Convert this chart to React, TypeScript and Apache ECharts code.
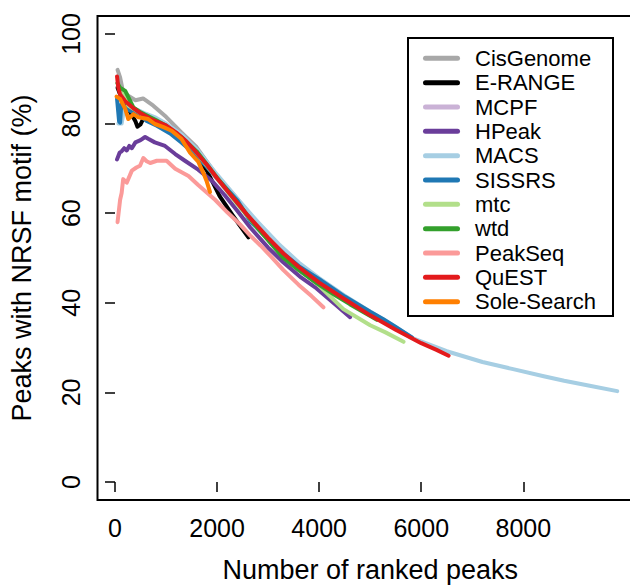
import React, { useEffect, useRef } from "react";
import * as echarts from "echarts";

const xTicks = [0, 2000, 4000, 6000, 8000];
const yTicks = [0, 20, 40, 60, 80, 100];

const seriesNames = ["CisGenome", "E-RANGE", "MCPF", "HPeak", "MACS", "SISSRS", "mtc", "wtd", "PeakSeq", "QuEST", "Sole-Search"];
const seriesColors = ["#A8A8A8", "#000000", "#CAB2D6", "#6A3D9A", "#A6CEE3", "#1F78B4", "#B2DF8A", "#33A02C", "#FB9A99", "#E31A1C", "#FF7F00"];

const cisGenome = [[50,92],[100,90.3],[150,87.5],[250,86.3],[400,85.2],[550,85.6],[750,84],[1000,81.5],[1300,78],[1600,74.7],[2000,68.3],[2300,64.5],[2600,60.3]];
const eRange = [[50,88],[150,85],[300,82.5],[400,80.5],[440,79.3],[500,79.8],[560,81.2],[700,80.6],[850,80.8],[950,79.8],[1050,79.2],[1200,77.6],[1500,74],[1800,69.5],[2050,63.8],[2300,59.6],[2450,57.2],[2614,54.6]];
const mcpf = [[50,89],[150,85.5],[400,83],[800,80.5],[1200,77.8],[1600,73.3],[2000,67.6],[2400,62],[2800,56.8],[3200,52]];
const hPeak = [[40,72],[90,73.5],[130,73.8],[180,74.5],[230,74],[280,75],[330,74.5],[400,75.8],[500,76.3],[590,77],[650,76.6],[780,75.8],[980,75],[1180,73.2],[1370,71.7],[1630,69.7],[1900,67.2],[2150,64],[2400,60.5],[2650,56.8],[3000,52.3],[3300,49],[3650,45.6],[3950,43.2],[4300,39.8],[4606,36.8]];
const macs = [[65,80],[130,80],[180,83.5],[300,83.5],[450,83],[600,82.2],[800,81.3],[1000,80],[1300,77.6],[1600,74.3],[2000,68.6],[2400,63.2],[2800,58],[3200,53.2],[3600,49],[4000,45.5],[4500,41.6],[5000,38],[5400,35.3],[5815,32.2],[6500,29.2],[7200,26.8],[7800,25.2],[8400,23.6],[8800,22.6],[9300,21.5],[9840,20.3]];
const sissrs = [[40,85.5],[60,83],[80,80.5],[100,80.2],[115,83],[130,84.5],[230,83.3],[350,82.5],[490,81.8],[620,80.6],[820,79.5],[1080,77.8],[1300,75.8],[1600,72.8],[2000,67.8],[2400,62.8],[2650,58.2],[3000,54.2],[3300,51],[3600,48.2],[4000,45.3],[4500,41.4],[5000,38],[5250,36.4],[5500,34.6],[5818,32.3]];
const mtc = [[50,89],[100,88],[160,87.3],[260,84],[360,83.3],[500,82.3],[800,80.5],[1000,79.3],[1300,77],[1600,73.5],[2000,67.8],[2400,62],[2800,56.6],[3200,51.6],[3600,47.6],[4000,43.8],[4475,38.6],[5000,35],[5300,33.4],[5653,31.3]];
const wtd = [[50,89],[100,88],[200,87.3],[360,83.6],[500,82.5],[800,80.8],[1000,79.5],[1300,77],[1600,73.8],[2000,67.9],[2400,62.3],[2800,56.6],[3300,50],[3600,47.3],[3950,44.4],[4300,41.8],[4600,39.7],[5131,36.2]];
const peakSeq = [[50,58],[100,63],[130,64.5],[160,67.6],[230,66.8],[330,69.5],[420,70.2],[490,70.6],[555,72.3],[620,71.6],[690,71.2],[820,71.7],[1010,71.7],[1180,69.9],[1440,68.3],[1630,66.3],[1960,63],[2200,60.2],[2450,57.5],[2650,55],[2850,52.8],[3050,50.4],[3300,47.3],[3600,44],[3850,41.5],[4083,39]];
const quest = [[40,90.5],[65,88],[100,86.5],[200,85],[350,83.5],[500,82.3],[700,81],[1000,79.6],[1200,78],[1400,76],[1600,73.5],[1800,70.8],[2000,67.8],[2200,65],[2400,62.3],[2600,59.5],[2800,57],[3000,54.5],[3300,51],[3600,48],[4000,44.5],[4500,40.8],[5000,37.2],[5500,34],[6000,31],[6300,29.5],[6536,28.2]];
const soleSearch = [[30,86],[100,85.5],[200,83.3],[260,81],[360,82.1],[460,81.4],[650,81],[780,79.9],[950,79.2],[1110,78.4],[1300,76.6],[1470,73.5],[1630,71.5],[1730,69],[1800,67],[1862,64.7]];

const seriesData = [cisGenome, eRange, mcpf, hPeak, macs, sissrs, mtc, wtd, peakSeq, quest, soleSearch];

const FONT = "'Liberation Sans', Arial, Helvetica, sans-serif";

export default function App() {
  const ref = useRef<HTMLDivElement>(null);
  useEffect(() => {
    if (!ref.current) return;
    const chart = echarts.init(ref.current, null, { renderer: "svg" });
    chart.setOption({
      animation: false,
      backgroundColor: "#fff",
      grid: {
        left: 97.5, top: 16, width: 545.5, height: 484,
        outerBoundsMode: "none", containLabel: false,
        show: true, borderColor: "#000", borderWidth: 2, backgroundColor: "transparent",
      },
      xAxis: {
        type: "value", min: -343, max: 10345,
        axisLine: { show: false },
        axisTick: { show: true, length: 10, lineStyle: { color: "#000", width: 1.5 }, customValues: xTicks },
        axisLabel: { customValues: xTicks, fontSize: 25, color: "#000", margin: 15, fontFamily: FONT, formatter: (v: number) => String(v) },
        splitLine: { show: false },
        name: "Number of ranked peaks", nameLocation: "middle", nameGap: 56,
        nameTextStyle: { fontSize: 27, color: "#000", fontFamily: FONT },
      },
      yAxis: {
        type: "value", min: -4, max: 104,
        axisLine: { show: false },
        axisTick: { show: true, length: 10, lineStyle: { color: "#000", width: 1.5 }, customValues: yTicks },
        axisLabel: { customValues: yTicks, fontSize: 25, color: "#000", margin: 14, rotate: 90, fontFamily: FONT, formatter: (v: number) => String(v) },
        splitLine: { show: false },
        name: "Peaks with NRSF motif (%)", nameLocation: "middle", nameGap: 62,
        nameTextStyle: { fontSize: 27, color: "#000", fontFamily: FONT },
      },
      legend: {
        orient: "vertical", left: 423, top: 46.2, padding: 0,
        itemWidth: 37, itemHeight: 5, itemGap: 0,
        icon: "path://M2.5,0H34.5A2.5,2.5,0,0,1,34.5,5H2.5A2.5,2.5,0,0,1,2.5,0Z",
        textStyle: { fontSize: 22, lineHeight: 24.33, padding: [0, 0, 0, 10], color: "#000", fontFamily: FONT },
        data: seriesNames,
      },
      graphic: [
        { type: "rect", shape: { x: 408, y: 38, width: 205, height: 278 }, style: { fill: "none", stroke: "#000", lineWidth: 2 }, z: 10 },
      ],
      series: seriesNames.map((name, i) => ({
        name, type: "line", data: seriesData[i], showSymbol: false, symbol: "none",
        color: seriesColors[i],
        lineStyle: { width: 4, color: seriesColors[i], cap: "round", join: "round" },
        z: 2, clip: true,
      })),
    });
    return () => chart.dispose();
  }, []);
  return <div ref={ref} style={{ position: "fixed", left: 0, top: 0, width: 660, height: 586 }} />;
}
